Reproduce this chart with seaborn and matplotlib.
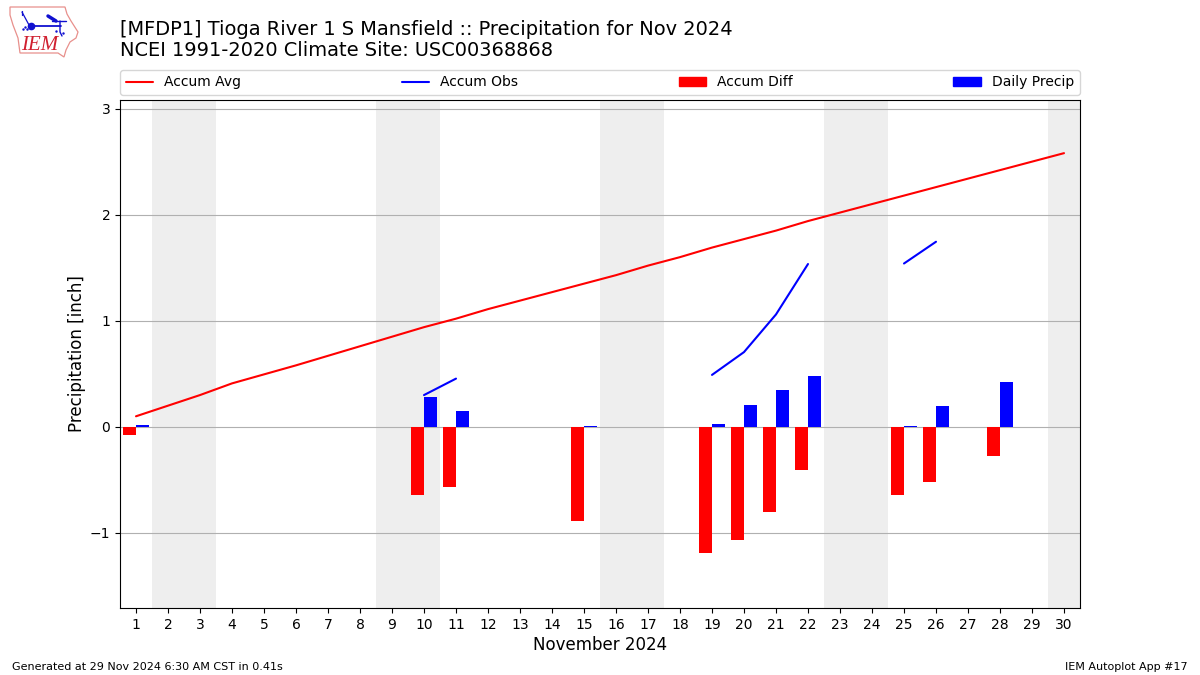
import numpy as np
import pandas as pd
import matplotlib
matplotlib.use("Agg")
import matplotlib.pyplot as plt
from matplotlib.lines import Line2D
from matplotlib.patches import Polygon
import seaborn as sns

DAYS = list(range(1, 31))
ACCUM_AVG = [0.10, 0.20, 0.30, 0.41, 0.495, 0.58, 0.67, 0.76, 0.85, 0.94,
             1.02, 1.11, 1.19, 1.27, 1.35, 1.43, 1.52, 1.60, 1.69, 1.77,
             1.85, 1.94, 2.02, 2.10, 2.18, 2.26, 2.34, 2.42, 2.50, 2.58]
OBS_SEG_1_DAYS = [10, 11]
OBS_SEG_1 = [0.30, 0.455]
OBS_SEG_2_DAYS = [19, 20, 21, 22]
OBS_SEG_2 = [0.49, 0.705, 1.06, 1.535]
OBS_SEG_3_DAYS = [25, 26]
OBS_SEG_3 = [1.54, 1.745]
PRECIP_DAYS = [1, 10, 11, 15, 19, 20, 21, 22, 25, 26, 28]
ACCUM_DIFF = [-0.075, -0.64, -0.57, -0.885, -1.19, -1.07, -0.80, -0.41, -0.64, -0.52, -0.27]
DAILY_PRECIP = [0.02, 0.285, 0.15, 0.01, 0.03, 0.21, 0.35, 0.48, 0.01, 0.20, 0.42]
WEEKENDS = [(1.5, 3.5), (8.5, 10.5), (15.5, 17.5), (22.5, 24.5), (29.5, 31.5)]
BAR_W = 0.4

sns.set_style("white")
plt.rcParams["font.family"] = ["DejaVu Sans"]
plt.rcParams["axes.edgecolor"] = "black"
plt.rcParams["text.color"] = "black"
plt.rcParams["axes.labelcolor"] = "black"
plt.rcParams["xtick.color"] = "black"
plt.rcParams["ytick.color"] = "black"

fig = plt.figure(figsize=(12, 6.75), dpi=100)
ax = fig.add_axes([120/1200, 1-608/675, 960/1200, 508/675])

for a, b in WEEKENDS:
    ax.axvspan(a, b, color="#eeeeee", lw=0, zorder=0)

d = pd.DataFrame({"day": PRECIP_DAYS, "diff": ACCUM_DIFF, "precip": DAILY_PRECIP})
sns.barplot(x=d["day"] - BAR_W/2, y=d["diff"], native_scale=True, width=BAR_W, color="#ff0000",
            saturation=1, errorbar=None, ax=ax, zorder=3, linewidth=0)
sns.barplot(x=d["day"] + BAR_W/2, y=d["precip"], native_scale=True, width=BAR_W, color="#0000ff",
            saturation=1, errorbar=None, ax=ax, zorder=3, linewidth=0)

sns.lineplot(x=DAYS, y=ACCUM_AVG, color="#ff0000", lw=1.5, ax=ax, errorbar=None, zorder=4)
for dd, vv in [(OBS_SEG_1_DAYS, OBS_SEG_1), (OBS_SEG_2_DAYS, OBS_SEG_2), (OBS_SEG_3_DAYS, OBS_SEG_3)]:
    sns.lineplot(x=dd, y=vv, color="#0000ff", lw=1.5, ax=ax, errorbar=None, zorder=4)

ax.set_xlim(0.5, 30.5)
ax.set_ylim(-1.707, 3.081)
ax.set_xticks(DAYS)
ax.set_xticklabels([str(x) for x in DAYS])
ax.set_yticks([-1, 0, 1, 2, 3])
ax.set_yticklabels(["\u22121", "0", "1", "2", "3"])
ax.tick_params(axis="both", which="major", bottom=True, left=True, length=3.5, width=0.8, labelsize=10)
ax.grid(True, axis="y", color="#b0b0b0", lw=0.8)
ax.grid(False, axis="x")
ax.set_axisbelow(True)
for s in ax.spines.values():
    s.set_linewidth(0.8)
    s.set_color("black")
ax.set_xlabel("November 2024", fontsize=12, labelpad=3)
ax.set_ylabel("Precipitation [inch]", fontsize=12, labelpad=2.5)

handles = [
    Line2D([], [], color="#ff0000", lw=1.5),
    Line2D([], [], color="#0000ff", lw=1.5),
    plt.Rectangle((0, 0), 1, 1, color="#ff0000"),
    plt.Rectangle((0, 0), 1, 1, color="#0000ff"),
]
ax.legend(handles, ["Accum Avg", "Accum Obs", "Accum Diff", "Daily Precip"], ncol=4, mode="expand",
          loc="lower left", bbox_to_anchor=(0, 1 + 5/508, 1, 0.05), borderaxespad=0, fontsize=10,
          frameon=True, edgecolor="#cccccc", framealpha=0.8)

fig.text(120/1200, 1-29.5/675, "[MFDP1] Tioga River 1 S Mansfield :: Precipitation for Nov 2024", fontsize=13.98, va="center", ha="left")
fig.text(120/1200, 1-51/675, "NCEI 1991-2020 Climate Site: USC00368868", fontsize=13.98, va="center", ha="left")
fig.text(12/1200, 1-666.5/675, "Generated at 29 Nov 2024 6:30 AM CST in 0.41s", fontsize=8, va="center", ha="left")
fig.text(1188/1200, 1-666.5/675, "IEM Autoplot App #17", fontsize=8, va="center", ha="right")

# logo, in pixel coordinates of the figure
lg = fig.add_axes([0, 1-65/675, 90/1200, 65/675])
lg.set_xlim(0, 90); lg.set_ylim(65, 0); lg.axis("off")
outline = [(10, 7), (65, 7), (67, 14), (71, 21), (78, 32), (76, 38), (70, 42), (66, 50), (64, 57), (58, 53), (20, 53), (18, 38), (13, 25), (10, 15)]
lg.add_patch(Polygon(outline, closed=True, fill=False, edgecolor="#e8908c", lw=0.9))
lg.plot([31, 61], [26, 26], color="#1010d0", lw=1.3)
lg.plot([31], [26], "o", color="#1010d0", ms=4.5)
lg.plot([48, 56], [16, 21], color="#1010d0", lw=2.5)
lg.plot([52, 66], [21, 21], color="#1010d0", lw=1)
lg.plot([60, 60, 62], [21, 32, 36], color="#1010d0", lw=1)
lg.plot([22, 29], [12, 25], color="#1010d0", lw=0.9)
lg.plot([22, 22], [11, 15], color="#1010d0", lw=0.9)
lg.plot([23, 25, 27], [29, 27, 29], ".", color="#1010d0", ms=1.5)
lg.plot([56, 63], [31, 33], ".", color="#1010d0", ms=1.5)
lg.text(21, 45.5, "IEM", color="#d02030", fontsize=15, family="Liberation Serif", style="italic", va="center", ha="left")

fig.savefig("out.png", dpi=100)
